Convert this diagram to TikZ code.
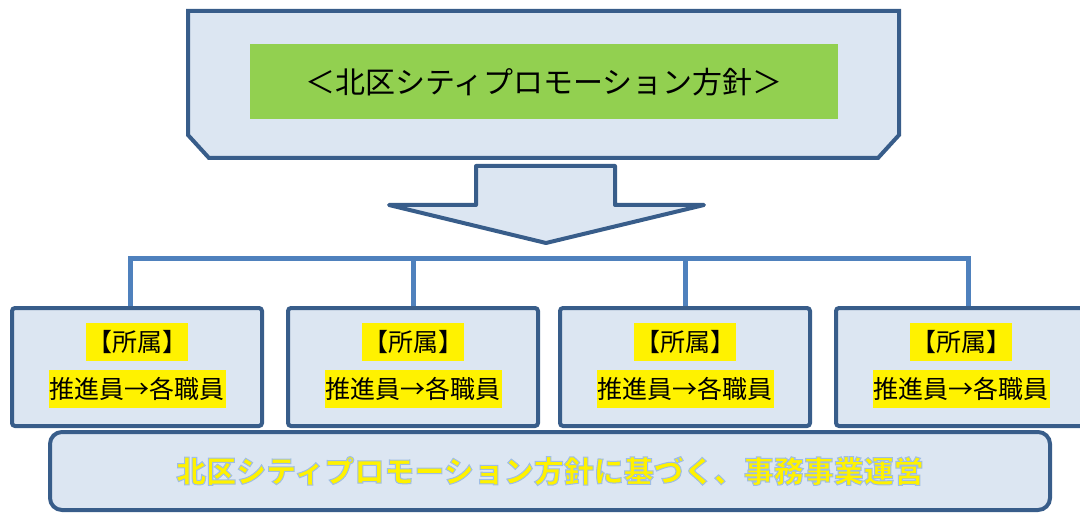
\documentclass[tikz,border=0pt]{standalone}
\usepackage{fontspec}
\setmainfont{Noto Sans CJK JP}
\usetikzlibrary{positioning}
\definecolor{frameblue}{RGB}{56,93,138}
\definecolor{paleblue}{RGB}{220,230,242}
\definecolor{linkblue}{RGB}{79,129,189}
\definecolor{leafgreen}{RGB}{146,208,80}
\tikzset{frame/.style={draw=frameblue, fill=paleblue, line width=2pt}}
\tikzset{unit box/.style={frame, rounded corners=1.5pt, minimum width=125pt,
         minimum height=59pt, inner sep=0pt}}
\tikzset{marker/.style={fill=yellow, inner xsep=0.5pt, inner ysep=3.5pt,
         font=\fontsize{12.5}{14}\selectfont}}
\tikzset{link/.style={draw=linkblue, line width=2.5pt}}
% yellow letters with a pale blue rim (fill, then stroke)
\newcommand{\rimtext}[1]{\special{pdf:literal direct 2 Tr 0.5 w 0.62 0.74 0.90 RG}#1\special{pdf:literal direct 0 Tr}}

\begin{document}
\begin{tikzpicture}[x=0.5pt, y=-0.5pt]
    \useasboundingbox (0,0) rectangle (1080,513);
    % top frame with cut corners
    \draw[frame] (188,11) -- (899,11) -- (899,135) -- (878,158)
      -- (209,158) -- (188,135) -- cycle;
    \node[fill=leafgreen, minimum width=294pt, minimum height=37.5pt,
      font=\fontsize{15}{18}\selectfont] (policy) at (544,82)
      {＜北区シティプロモーション方針＞};
    % block arrow
    \draw[frame, line join=round] (476,166) -- (615,166) -- (615,205)
      -- (704,205) -- (546,243) -- (389,205) -- (476,205) -- cycle;

    % the four units
    \foreach \x [count=\i] in {137, 413, 685, 961} {
      \node[unit box] (b\i) at (\x,367) {};
      \node[marker] (tag\i) at ([yshift=12.5pt]b\i.center) {【所属】};
      \node[marker] (role\i) at ([yshift=-11pt]b\i.center) {推進員→各職員};
    }
    \coordinate (bus) at (0,258);
    \coordinate (leftfoot) at ([xshift=-3.5pt]b1.north);
    \coordinate (rightfoot) at ([xshift=3.5pt]b4.north);
    \draw[link] (leftfoot) |- (bus -| rightfoot) -- (rightfoot);
    \draw[link] (b2.north) -- (b2.north |- bus);
    \draw[link] (b3.north) -- (b3.north |- bus);

    % base bar
    \node[frame, rounded corners=6pt, minimum width=500pt, minimum height=39pt]
      (base) at (550,471) {};
    \node[text=yellow, font=\fontsize{15}{18}\selectfont\bfseries]
      (basetext) at (base.center)
      {\rimtext{北区シティプロモーション方針に基づく、事務事業運営}};
\end{tikzpicture}
\end{document}
